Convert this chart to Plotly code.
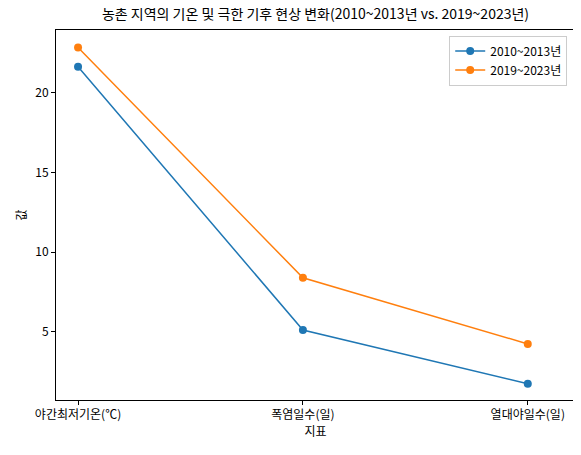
import plotly.graph_objects as go

categories = ["야간최저기온(℃)", "폭염일수(일)", "열대야일수(일)"]
series_names = ["2010~2013년", "2019~2023년"]
values_2010 = [21.65, 5.12, 1.75]
values_2019 = [22.85, 8.4, 4.25]
colors = ["#1f77b4", "#ff7f0e"]

fig = go.Figure()
for name, vals, c in zip(series_names, [values_2010, values_2019], colors):
    fig.add_trace(go.Scatter(
        x=list(range(len(categories))), y=vals, name=name,
        mode="lines+markers", line=dict(color=c, width=1.5),
        marker=dict(color=c, size=8),
    ))

axis_common = dict(showgrid=False, zeroline=False, showline=True, mirror=True,
                   linecolor="black", linewidth=1, ticks="outside", ticklen=4,
                   tickcolor="black", tickfont=dict(size=12, color="black"))

# page body has an 8px margin, so size the figure to leave it
fig.update_layout(
    width=573, height=447,
    margin=dict(l=48, r=6, t=22, b=55),
    plot_bgcolor="white", paper_bgcolor="white",
    font=dict(family="Noto Sans CJK KR", color="black"),
    title=dict(text="농촌 지역의 기온 및 극한 기후 현상 변화(2010~2013년 vs. 2019~2023년)",
               x=0.5, xanchor="center", xref="paper", y=0.998, yanchor="top",
               font=dict(size=14)),
    xaxis=dict(axis_common, range=[-0.098, 2.21], tickvals=[0, 1, 2], ticktext=categories,
               title=dict(text="지표", font=dict(size=12), standoff=4)),
    yaxis=dict(axis_common, range=[0.73, 23.95], tickvals=[5, 10, 15, 20],
               title=dict(text="값", font=dict(size=12), standoff=6)),
    legend=dict(x=0.985, y=0.985, xanchor="right", yanchor="top",
                bordercolor="#cccccc", borderwidth=1, bgcolor="white",
                font=dict(size=12)),
)

fig.write_html("out.html")
